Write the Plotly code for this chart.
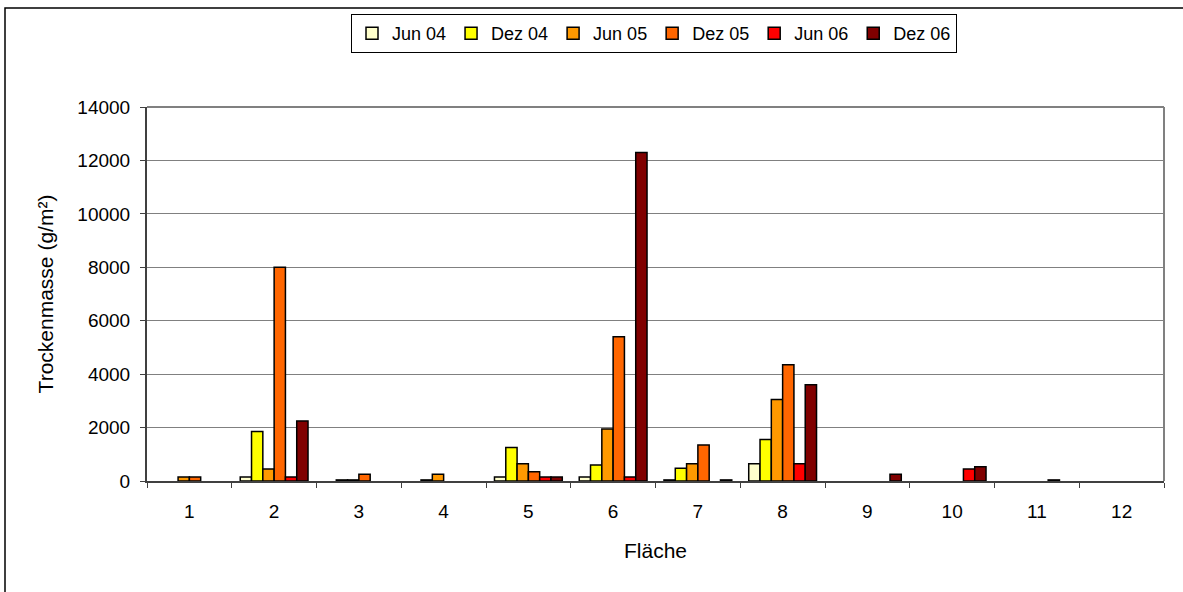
import plotly.graph_objects as go

categories = ["1", "2", "3", "4", "5", "6", "7", "8", "9", "10", "11", "12"]
series_names = ["Jun 04", "Dez 04", "Jun 05", "Dez 05", "Jun 06", "Dez 06"]
jun04 = [None, 150, None, None, 150, 150, 40, 650, None, None, None, None]
dez04 = [None, 1850, 40, 40, 1250, 600, 475, 1550, None, None, None, None]
jun05 = [150, 450, 40, 250, 650, 1950, 650, 3050, None, None, None, None]
dez05 = [150, 8000, 250, None, 350, 5400, 1350, 4350, None, None, None, None]
jun06 = [None, 150, None, None, 150, 150, None, 650, None, 450, 40, None]
dez06 = [None, 2250, None, None, 150, 12300, 40, 3600, 250, 530, None, None]
colors = ["#FFFFCC", "#FFFF00", "#FF9900", "#FF6600", "#FF0000", "#800000"]
y_ticks = [0, 2000, 4000, 6000, 8000, 10000, 12000, 14000]

series_values = [jun04, dez04, jun05, dez05, jun06, dez06]

fig = go.Figure()
for name, vals, col in zip(series_names, series_values, colors):
    fig.add_trace(go.Bar(
        x=categories, y=vals, name=name,
        marker=dict(color=col, line=dict(color="black", width=1.5)),
    ))

FONT = "Liberation Sans, Arial, sans-serif"
L, R, T, B = 147, 19, 107, 111
W, H = 1183, 592
pw, ph = W - L - R, H - T - B

def px_x(p):
    return (p - L) / pw

def px_y(p):
    return (H - B - p) / ph

fig.update_layout(
    width=W, height=H,
    margin=dict(l=L, r=R, t=T, b=B),
    paper_bgcolor="white", plot_bgcolor="white",
    barmode="group", bargap=0.2, bargroupgap=0,
    font=dict(family=FONT, size=18, color="black"),
    showlegend=True,
    legend=dict(
        orientation="h", x=px_x(654), xanchor="center", y=px_y(14), yanchor="top",
        bordercolor="black", borderwidth=1, bgcolor="white",
        font=dict(family=FONT, size=18, color="black"),
        itemwidth=30, tracegroupgap=0,
    ),
    xaxis=dict(
        type="category", tickson="boundaries", ticks="outside", ticklen=5,
        tickcolor="#404040", showline=True, linecolor="#404040", linewidth=2,
        showgrid=False, mirror=False, ticklabelstandoff=12,
        title=dict(text="Fläche", font=dict(family=FONT, size=21), standoff=23),
        tickfont=dict(family=FONT, size=19),
    ),
    yaxis=dict(
        range=[0, 14000], tickvals=y_ticks, tickformat="d", ticks="outside", ticklen=5,
        tickcolor="#404040", showline=True, linecolor="#404040", linewidth=2,
        showgrid=True, gridcolor="#808080", gridwidth=1, zeroline=False,
        ticklabelstandoff=6,
        title=dict(text="Trockenmasse (g/m²)", font=dict(family=FONT, size=21), standoff=18),
        tickfont=dict(family=FONT, size=19),
    ),
    shapes=[
        dict(type="line", xref="paper", yref="paper", x0=0, x1=1, y0=1, y1=1,
             line=dict(color="#808080", width=2)),
        dict(type="line", xref="paper", yref="paper", x0=1, x1=1, y0=0, y1=1,
             line=dict(color="#808080", width=2)),
        dict(type="rect", xref="paper", yref="paper",
             x0=px_x(5), x1=px_x(1200), y0=px_y(8), y1=px_y(610),
             line=dict(color="black", width=1.5), layer="below"),
    ],
)

fig.write_html("out.html", config={"displayModeBar": False},
               post_script="document.body.style.margin='0px';document.body.style.overflow='hidden';")
